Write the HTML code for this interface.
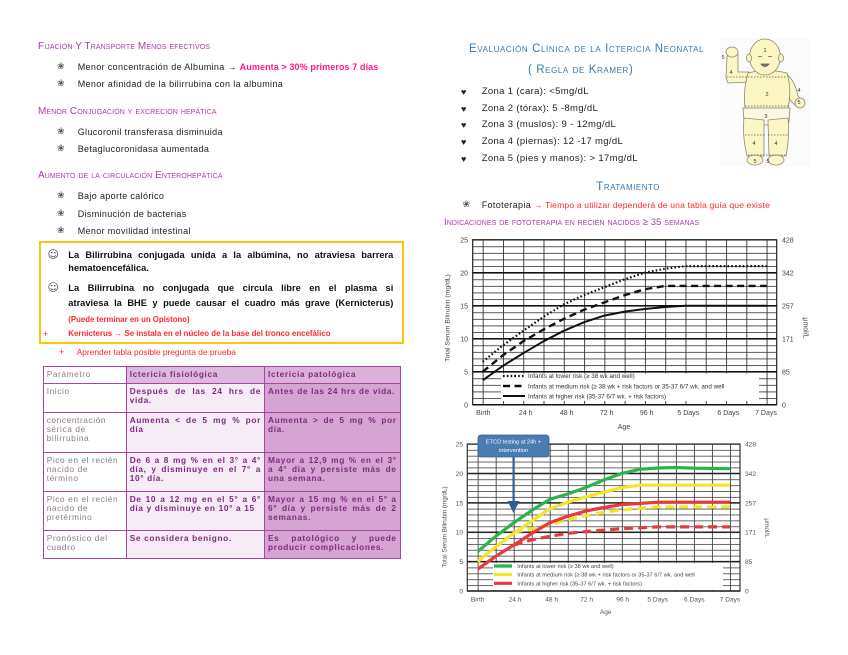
<!DOCTYPE html>
<html><head><meta charset="utf-8">
<style>
html,body{margin:0;padding:0;background:#fff;}
body{width:848px;height:655px;position:relative;overflow:hidden;font-family:"Liberation Sans","DejaVu Sans",sans-serif;color:#222;}
.a{position:absolute;white-space:nowrap;line-height:12px;}
.h{color:#a63ea6;font-variant:small-caps;font-size:10px;letter-spacing:0.1px;}
.t{font-size:9px;letter-spacing:0.35px;color:#222;}
.b{font-size:9px;color:#555;font-family:"DejaVu Sans",sans-serif;}
.bt{position:absolute;left:68.3px;width:325px;font-weight:bold;font-size:9.3px;line-height:12px;text-align:justify;text-align-last:justify;color:#111;}
.blue{color:#3b7aa8;font-variant:small-caps;}
table{border-collapse:collapse;position:absolute;left:42.7px;top:366px;width:357px;table-layout:fixed;}
td{border:1.5px solid #a447a0;vertical-align:top;padding:2.5px 3px 0 3px;font-size:8.3px;line-height:9.3px;letter-spacing:0.65px;}
td.c1{color:#8a7a8a;background:#fff;letter-spacing:0.6px;}
td.c2{color:#7d2a80;font-weight:bold;background:#f6ecf5;text-align:justify;}
td.c3{color:#7d2a80;font-weight:bold;background:#d6a4d2;text-align:justify;}
tr.hd td.c2{background:#ddbadd;}
tr.hd td.c3{background:#dcb1d9;}
</style></head><body>

<!-- LEFT TOP TEXT -->
<div class="a h" style="left:38px;top:41px;">Fijación Y Transporte Menos efectivos</div>
<div class="a b" style="left:57px;top:61px;">❀</div>
<div class="a t" style="left:77.7px;top:61px;">Menor concentración de Albumina → <span style="color:#ff1a8c;font-weight:bold;letter-spacing:0.1px;">Aumenta &gt; 30% primeros 7 días</span></div>
<div class="a b" style="left:57px;top:78px;">❀</div>
<div class="a t" style="left:77.7px;top:78px;">Menor afinidad de la bilirrubina con la albumina</div>

<div class="a h" style="left:38px;top:105.5px;">Menor Conjugación y excreción hepática</div>
<div class="a b" style="left:57px;top:125.5px;">❀</div>
<div class="a t" style="left:77.7px;top:125.5px;">Glucoronil transferasa disminuida</div>
<div class="a b" style="left:57px;top:143px;">❀</div>
<div class="a t" style="left:77.7px;top:143px;">Betaglucoronidasa aumentada</div>

<div class="a h" style="left:38px;top:170px;">Aumento de la circulación Enterohepática</div>
<div class="a b" style="left:57px;top:189.5px;">❀</div>
<div class="a t" style="left:77.7px;top:189.5px;">Bajo aporte calórico</div>
<div class="a b" style="left:57px;top:208px;">❀</div>
<div class="a t" style="left:77.7px;top:208px;">Disminución de bacterias</div>
<div class="a b" style="left:57px;top:225px;">❀</div>
<div class="a t" style="left:77.7px;top:225px;">Menor movilidad intestinal</div>

<!-- YELLOW BOX -->
<div style="position:absolute;left:39.3px;top:241px;width:361px;height:99px;border:2.5px solid #f9c80e;"></div>
<div class="a" style="left:47.5px;top:248.5px;font-size:11px;color:#444;font-family:'DejaVu Sans',sans-serif;">☺</div>
<div class="bt" style="top:249px;">La Bilirrubina conjugada unida a la albúmina, no atraviesa barrera</div>
<div class="a" style="left:68.3px;top:262.3px;font-weight:bold;font-size:9.3px;color:#111;">hematoencefálica.</div>
<div class="a" style="left:47.5px;top:281.8px;font-size:11px;color:#444;font-family:'DejaVu Sans',sans-serif;">☺</div>
<div class="bt" style="top:282.3px;">La Bilirrubina no conjugada que circula libre en el plasma si</div>
<div class="bt" style="top:297.3px;">atraviesa la BHE y puede causar el cuadro más grave (Kernicterus)</div>
<div class="a" style="left:68.3px;top:314px;font-weight:bold;font-size:7.8px;color:#ff2a2a;">(Puede terminar en un Opistono)</div>
<div class="a" style="left:43px;top:328.3px;font-size:9px;color:#ff2a2a;">+</div>
<div class="a" style="left:68.3px;top:328.3px;font-weight:bold;font-size:7.9px;color:#ff2a2a;">Kernicterus → Se instala en el núcleo de la base del tronco encefálico</div>

<div class="a" style="left:59px;top:346.3px;font-size:9px;color:#ff2a2a;">+</div>
<div class="a" style="left:76.7px;top:346.3px;font-size:8.4px;color:#ff2a2a;">Aprender tabla posible pregunta de prueba</div>

<!-- TABLE -->
<table>
<colgroup><col style="width:83px"><col style="width:138.3px"><col style="width:135.7px"></colgroup>
<tr class="hd" style="height:17px"><td class="c1">Parámetro</td><td class="c2">Ictericia  fisiológica</td><td class="c3">Ictericia patológica</td></tr>
<tr style="height:29px"><td class="c1">Inicio</td><td class="c2">Después de las 24 hrs de vida.</td><td class="c3">Antes de las 24 hrs de vida.</td></tr>
<tr style="height:40px"><td class="c1">concentración sérica de bilirrubina</td><td class="c2">Aumenta &lt; de 5 mg % por día</td><td class="c3">Aumenta &gt; de 5 mg % por día.</td></tr>
<tr style="height:39px"><td class="c1">Pico en el recién nacido de término</td><td class="c2">De 6 a 8 mg %  en el 3° a 4° día,  y disminuye en el 7° a 10° día.</td><td class="c3">Mayor a 12,9 mg %  en el 3° a 4° día y persiste  más de una semana.</td></tr>
<tr style="height:39px"><td class="c1">Pico en el recién nacido de pretérmino</td><td class="c2">De 10 a 12 mg en el  5° a 6° día y    disminuye en 10° a 15</td><td class="c3">Mayor a 15 mg % en el 5° a 6° día y persiste más de 2 semanas.</td></tr>
<tr style="height:28px"><td class="c1">Pronóstico del cuadro</td><td class="c2">Se considera benigno.</td><td class="c3">Es patológico y puede producir complicaciones.</td></tr>
</table>

<!-- RIGHT TOP TEXT -->
<div class="a blue" style="left:469px;top:42.5px;font-size:11.5px;letter-spacing:0.6px;">Evaluación Clínica de la Ictericia Neonatal</div>
<div class="a blue" style="left:528px;top:64px;font-size:11.5px;letter-spacing:0.6px;">( Regla de Kramer)</div>
<div class="a" style="left:461px;top:85.7px;font-size:9px;">♥</div>
<div class="a t" style="left:481.7px;top:85.7px;font-size:9.5px;">Zona 1 (cara): &lt;5mg/dL</div>
<div class="a" style="left:461px;top:102.5px;font-size:9px;">♥</div>
<div class="a t" style="left:481.7px;top:102.5px;font-size:9.5px;">Zona 2 (tórax): 5 -8mg/dL</div>
<div class="a" style="left:461px;top:119.3px;font-size:9px;">♥</div>
<div class="a t" style="left:481.7px;top:119.3px;font-size:9.5px;">Zona 3 (muslos): 9 - 12mg/dL</div>
<div class="a" style="left:461px;top:136.3px;font-size:9px;">♥</div>
<div class="a t" style="left:481.7px;top:136.3px;font-size:9.5px;">Zona 4 (piernas): 12 -17 mg/dL</div>
<div class="a" style="left:461px;top:153.3px;font-size:9px;">♥</div>
<div class="a t" style="left:481.7px;top:153.3px;font-size:9.5px;">Zona 5 (pies y manos): &gt; 17mg/dL</div>

<div class="a blue" style="left:596px;top:179.5px;font-size:12px;letter-spacing:0.5px;">Tratamiento</div>
<div class="a b" style="left:462.5px;top:199px;">❀</div>
<div class="a t" style="left:481.7px;top:199px;">Fototerapia <span style="color:#ff2a2a;font-size:8.6px;letter-spacing:0.15px;">→ Tiempo a utilizar dependerá de una tabla guía que existe</span></div>
<div class="a h" style="left:444px;top:216.7px;font-size:9.5px;">Indicaciones de fototerapia en recién nacidos ≥ 35 semanas</div>

<!-- GRAPHICS -->
<svg width="848" height="655" style="position:absolute;left:0;top:0;" xmlns="http://www.w3.org/2000/svg" font-family="Liberation Sans, sans-serif">
<defs>
<pattern id="g1" x="482.7" y="239.7" width="20.28" height="6.6" patternUnits="userSpaceOnUse">
<rect x="0" y="0" width="0.9" height="6.6" fill="#333"/>
<rect x="0" y="0" width="20.28" height="0.8" fill="#333"/>
</pattern>
<pattern id="g2" x="477.7" y="444" width="18.02" height="5.88" patternUnits="userSpaceOnUse">
<rect x="0" y="0" width="0.9" height="5.88" fill="#444"/>
<rect x="0" y="0" width="18.02" height="0.8" fill="#444"/>
</pattern>
<marker id="ar" markerWidth="6" markerHeight="6" refX="3" refY="3" orient="auto"><path d="M0,0 L6,3 L0,6 z" fill="#2f5f8f"/></marker>
</defs>

<!-- BABY -->
<g stroke="#8a8a7a" stroke-width="0.8" fill="#fcf5c4">
<rect x="720" y="38" width="90" height="128" fill="#fbfbfb" stroke="none"/>
<path d="M726,78 L727,56 L738,54 L738,72 L749,72 L749,82 L728,83 Z"/>
<ellipse cx="732" cy="52" rx="6" ry="5"/>
<path d="M786,74 Q795,80 798,96 L802,100 L796,106 L790,100 Q786,90 786,84 Z"/>
<ellipse cx="800" cy="103" rx="5" ry="5"/>
<path d="M748,73 Q766,68 787,73 Q792,90 788,108 L745,108 Q743,90 748,73 Z"/>
<path d="M743,108 L790,108 L789,122 Q766,128 744,122 Z" fill="#fbf7e0"/>
<path d="M744,118 L764,120 L764,156 L747,156 Q742,135 744,118 Z"/>
<path d="M768,120 L788,118 Q790,135 786,156 L769,156 Z"/>
<ellipse cx="755" cy="160" rx="8" ry="5"/>
<ellipse cx="776" cy="160" rx="8" ry="5"/>
<ellipse cx="765" cy="57" rx="15.5" ry="18"/>
<ellipse cx="749" cy="58" rx="2.5" ry="4"/>
<ellipse cx="781" cy="58" rx="2.5" ry="4"/>
</g>
<g stroke="#555" stroke-width="0.7" fill="none">
<path d="M758,57 q2,-1.5 4,0 M768,57 q2,-1.5 4,0"/>
<path d="M761,64 q4,5 8,0 z" fill="#777"/>
<path d="M727,77 L787,77 M745,106 L789,106 M745,135 L765,135 M768,135 L788,135 M748,155 L786,155" stroke-dasharray="1.5,1.5"/>
</g>
<g font-size="5.5" fill="#333" text-anchor="middle">
<text x="765" y="52">1</text><text x="767" y="96">2</text><text x="766" y="118">3</text>
<text x="731" y="74">4</text><text x="799" y="92">4</text><text x="754" y="145">4</text><text x="776" y="145">4</text>
<text x="723" y="59">5</text><text x="799" y="104">5</text><text x="755" y="163">5</text><text x="768" y="163">5</text>
</g>

<!-- CHART 1 -->
<rect x="472.7" y="239.7" width="304" height="165" fill="url(#g1)"/>
<rect x="472.7" y="239.7" width="304" height="165" fill="none" stroke="#222" stroke-width="1.2"/>
<g stroke="#111" stroke-width="1.5">
<line x1="472.7" y1="272.7" x2="776.7" y2="272.7"/>
<line x1="472.7" y1="305.7" x2="776.7" y2="305.7"/>
<line x1="472.7" y1="338.7" x2="776.7" y2="338.7"/>
<line x1="472.7" y1="371.7" x2="776.7" y2="371.7"/>
<line x1="472.7" y1="404.7" x2="776.7" y2="404.7"/>
</g>
<rect x="501" y="373.5" width="258" height="27.5" fill="#fff"/>
<g fill="none" stroke="#111" stroke-linejoin="round">
<polyline stroke-width="2.2" stroke-dasharray="1.6,2.2" points="482.7,361.8 503,345.3 523.3,330.8 543.5,316.9 563.8,304.4 584.1,295.1 604.4,287.2 624.7,279.3 644.9,272.7 665.2,268.7 685.5,266.1 766.6,266.1"/>
<polyline stroke-width="2.4" stroke-dasharray="7,4.5" points="482.7,371.7 503,355.2 523.3,341.3 543.5,329.5 563.8,318.9 584.1,309.7 604.4,302.4 624.7,295.1 644.9,289.2 665.2,285.9 766.6,285.9"/>
<polyline stroke-width="2" points="482.7,380.3 503,365.8 523.3,353.2 543.5,341.3 563.8,330.8 584.1,322.2 604.4,315.6 624.7,311.6 644.9,309 665.2,307 685.5,305.7 766.6,305.7"/>
<line x1="503" y1="376" x2="525" y2="376" stroke-width="2.2" stroke-dasharray="1.6,2.2"/>
<line x1="503" y1="386" x2="525" y2="386" stroke-width="2.4" stroke-dasharray="7,4.5"/>
<line x1="503" y1="396" x2="525" y2="396" stroke-width="2"/>
</g>
<g font-size="6.3" fill="#333">
<text x="528" y="378.2">Infants at lower risk (≥ 38 wk and well)</text>
<text x="528" y="388.4">Infants at medium risk (≥ 38 wk + risk factors or 35-37 6/7 wk. and well</text>
<text x="528" y="398.4">Infants at higher risk (35-37 6/7 wk. + risk factors)</text>
</g>
<g font-size="7" fill="#444" text-anchor="end">
<text x="468" y="242.5">25</text><text x="468" y="275.3">20</text><text x="468" y="308.3">15</text>
<text x="468" y="341.5">10</text><text x="468" y="374.3">5</text><text x="468" y="407.5">0</text>
</g>
<g font-size="7" fill="#444">
<text x="782" y="242.5">428</text><text x="782" y="275.3">342</text><text x="782" y="308.3">257</text>
<text x="782" y="341.5">171</text><text x="782" y="374.3">85</text><text x="782" y="407.5">0</text>
</g>
<g font-size="7" fill="#444" text-anchor="middle">
<text x="483.3" y="415">Birth</text><text x="525.7" y="415">24 h</text><text x="566.7" y="415">48 h</text>
<text x="606.7" y="415">72 h</text><text x="646.7" y="415">96 h</text><text x="688.3" y="415">5 Days</text>
<text x="728.3" y="415">6 Days</text><text x="766" y="415">7 Days</text>
<text x="624" y="429">Age</text>
</g>
<text transform="translate(449.5,318) rotate(-90)" font-size="6.8" fill="#444" text-anchor="middle">Total Serum Bilirubin (mg/dL)</text>
<text transform="translate(803.5,328) rotate(90)" font-size="7" fill="#444" text-anchor="middle">μmol/L</text>

<!-- CHART 2 -->
<rect x="467.3" y="444" width="272.7" height="147" fill="url(#g2)"/>
<rect x="467.3" y="444" width="272.7" height="147" fill="none" stroke="#333" stroke-width="1.2"/>
<g stroke="#222" stroke-width="1.4">
<line x1="467.3" y1="473.4" x2="740" y2="473.4"/>
<line x1="467.3" y1="502.8" x2="740" y2="502.8"/>
<line x1="467.3" y1="532.2" x2="740" y2="532.2"/>
<line x1="467.3" y1="561.6" x2="740" y2="561.6"/>
<line x1="467.3" y1="591" x2="740" y2="591"/>
</g>
<rect x="493" y="563" width="230" height="27" fill="#fff"/>
<g fill="none" stroke-linejoin="round" stroke-width="3.2">
<polyline stroke="#f2e52a" stroke-dasharray="9,5" points="513.7,532.2 531.8,528.7 549.8,524.6 567.7,519.9 585.8,515.7 603.9,512.2 621.9,509.9 639.9,508.1 657.9,506.9 730,506.9"/>
<polyline stroke="#e8393b" stroke-dasharray="9,5" points="513.7,545.1 531.8,539.8 549.8,536.3 567.7,533.4 585.8,531.6 621.9,528.7 657.9,526.9 730,526.9"/>
<polyline stroke="#e8393b" points="477.7,569.2 495.7,556.3 513.7,545.1 531.8,533.4 549.8,522.8 567.7,516.3 585.8,511 603.9,507.5 621.9,504.6 657.9,502.2 730,502.2"/>
<polyline stroke="#f2e52a" points="477.7,561.6 495.7,546.9 513.7,533.4 531.8,521 549.8,508.7 567.7,502.2 585.8,496.9 603.9,492.2 621.9,487.5 639.9,485.2 730,485.2"/>
<polyline stroke="#2eb34b" points="477.7,551.6 495.7,536.3 513.7,522.8 531.8,510.4 549.8,499.3 567.7,494 585.8,487.5 603.9,479.9 621.9,473.4 639.9,469.3 657.9,468 676,467.5 694,468.2 730,468.7"/>
<line x1="494" y1="566" x2="512" y2="566" stroke="#2eb34b"/>
<line x1="494" y1="574.5" x2="512" y2="574.5" stroke="#f2e52a"/>
<line x1="494" y1="583.3" x2="512" y2="583.3" stroke="#e8393b"/>
</g>
<g font-size="5.7" fill="#444">
<text x="517.3" y="568">Infants at lower risk (≥ 38 wk and well)</text>
<text x="517.3" y="576.5">Infants at medium risk (≥ 38 wk + risk factors or 35-37 6/7 wk. and well</text>
<text x="517.3" y="585.3">Infants at higher risk (35-37 6/7 wk. + risk factors)</text>
</g>
<g font-size="6.6" fill="#555" text-anchor="end">
<text x="463" y="446.5">25</text><text x="463" y="475.8">20</text><text x="463" y="505.3">15</text>
<text x="463" y="534.6">10</text><text x="463" y="564">5</text><text x="463" y="593.4">0</text>
</g>
<g font-size="6.6" fill="#555">
<text x="745" y="446.5">428</text><text x="745" y="475.8">342</text><text x="745" y="505.3">257</text>
<text x="745" y="534.6">171</text><text x="745" y="564">85</text><text x="745" y="593.4">0</text>
</g>
<g font-size="6.6" fill="#555" text-anchor="middle">
<text x="477.7" y="601.5">Birth</text><text x="515" y="601.5">24 h</text><text x="551.7" y="601.5">48 h</text>
<text x="586.7" y="601.5">72 h</text><text x="622.7" y="601.5">96 h</text><text x="657.7" y="601.5">5 Days</text>
<text x="694.3" y="601.5">6 Days</text><text x="730" y="601.5">7 Days</text>
<text x="605.7" y="614">Age</text>
</g>
<text transform="translate(446.5,527) rotate(-90)" font-size="6.3" fill="#555" text-anchor="middle">Total Serum Bilirubin (mg/dL)</text>
<text transform="translate(765,528) rotate(90)" font-size="6.5" fill="#555" text-anchor="middle">μmol/L</text>

<rect x="478" y="435" width="71" height="22" rx="3" fill="#4a7cb2" stroke="#32618f" stroke-width="0.8"/>
<text x="513.5" y="443.5" font-size="5.6" fill="#fff" text-anchor="middle">ETCD testing at 24h +</text>
<text x="513.5" y="452" font-size="5.6" fill="#fff" text-anchor="middle">intervention</text>
<line x1="513.5" y1="457" x2="513.5" y2="507" stroke="#2f5f8f" stroke-width="2" marker-end="url(#ar)"/>
</svg>
</body></html>
